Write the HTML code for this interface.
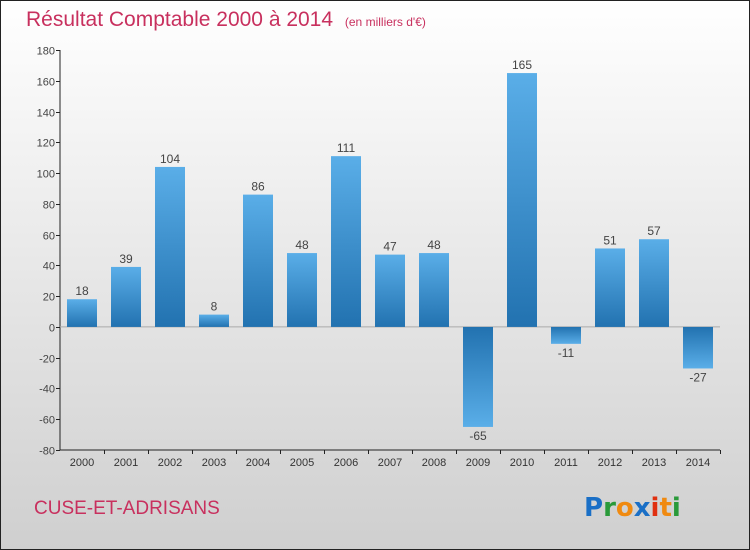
<!DOCTYPE html>
<html><head><meta charset="utf-8"><style>
html,body{margin:0;padding:0;width:750px;height:550px;overflow:hidden}
svg{display:block}
</style></head><body>
<svg id="chart" width="750" height="550" xmlns="http://www.w3.org/2000/svg" font-family="Liberation Sans, sans-serif">
<defs>
<linearGradient id="bg" x1="0" y1="0" x2="0" y2="1"><stop offset="0" stop-color="#ffffff"/><stop offset="1" stop-color="#cfcfcf"/></linearGradient>
<linearGradient id="barg" x1="0" y1="0" x2="0" y2="1"><stop offset="0" stop-color="#5aaee8"/><stop offset="1" stop-color="#2272b0"/></linearGradient>
<linearGradient id="barn" x1="0" y1="0" x2="0" y2="1"><stop offset="0" stop-color="#2272b0"/><stop offset="1" stop-color="#5aaee8"/></linearGradient>
</defs>
<rect x="0.5" y="0.5" width="749" height="549" fill="url(#bg)" stroke="#222" stroke-width="1"/>
<text x="26" y="26" font-size="21" fill="#c8305e">Résultat Comptable 2000 à 2014 <tspan font-size="12" dx="6">(en milliers d'€)</tspan></text>
<text x="34" y="514" font-size="19" fill="#c8305e">CUSE-ET-ADRISANS</text>
<g font-size="26" font-weight="bold" font-family="DejaVu Sans, sans-serif">
<text x="584" y="516"><tspan fill="#1a6fc6">P</tspan><tspan fill="#2a9a3a">r</tspan><tspan fill="#f08a10">o</tspan><tspan fill="#1a6fc6">x</tspan><tspan fill="#e03010">i</tspan><tspan fill="#f08a10">t</tspan><tspan fill="#2a9a3a">i</tspan></text>
</g>
<g id="axes"></g>
<g id="bars"></g>
</svg>
<script>
const categories=["2000","2001","2002","2003","2004","2005","2006","2007","2008","2009","2010","2011","2012","2013","2014"];
const values=[18,39,104,8,86,48,111,47,48,-65,165,-11,51,57,-27];
const yTicks=[-80,-60,-40,-20,0,20,40,60,80,100,120,140,160,180];
const NS="http://www.w3.org/2000/svg";
const x0=60,x1=720,yTop=50,yBot=450,vMin=-80,vMax=180;
const step=(x1-x0)/categories.length;
function yScale(v){return yBot-(v-vMin)/(vMax-vMin)*(yBot-yTop);}
function xCenter(i){return x0+step*(i+0.5);}
function mk(tag,attrs,parent){const e=document.createElementNS(NS,tag);for(const k in attrs)e.setAttribute(k,attrs[k]);parent.appendChild(e);return e;}
const axes=document.getElementById('axes'),bars=document.getElementById('bars');
const ya=mk('line',{x1:x0,y1:yTop,x2:x0,y2:yBot,stroke:'#222','stroke-width':1},axes);


const xa=mk('line',{x1:x0,y1:yBot,x2:x1,y2:yBot,stroke:'#222','stroke-width':1},axes);


const zl=mk('line',{x1:x0,y1:yScale(0),x2:x1,y2:yScale(0),stroke:'#aaa','stroke-width':1},axes);


yTicks.forEach(t=>{const y=Math.round(yScale(t))+0.5;
 mk('line',{x1:x0-4,y1:y,x2:x0,y2:y,stroke:'#222'},axes);
 const tx=mk('text',{x:x0-5,y:y+4,'font-size':11,fill:'#444','text-anchor':'end'},axes);tx.textContent=t;
 
 });
categories.forEach((c,i)=>{
 const xt=Math.round(x0+step*(i+1))+0.5;
 mk('line',{x1:xt,y1:yBot,x2:xt,y2:yBot+4,stroke:'#222'},axes);
 const tx=mk('text',{x:xCenter(i),y:yBot+16,'font-size':11,fill:'#333','text-anchor':'middle'},axes);tx.textContent=c;
 
 
 const v=values[i],yv=yScale(v),y0=yScale(0),w=30;
 const r=mk('rect',{x:xCenter(i)-w/2,y:Math.min(yv,y0),width:w,height:Math.abs(yv-y0),fill:v>=0?'url(#barg)':'url(#barn)'},bars);
 
 
 const lb=mk('text',{x:xCenter(i),y:v>=0?yv-4:yv+13,'font-size':12,fill:'#444','text-anchor':'middle'},bars);lb.textContent=v;
 
 
});
</script>
</body></html>
